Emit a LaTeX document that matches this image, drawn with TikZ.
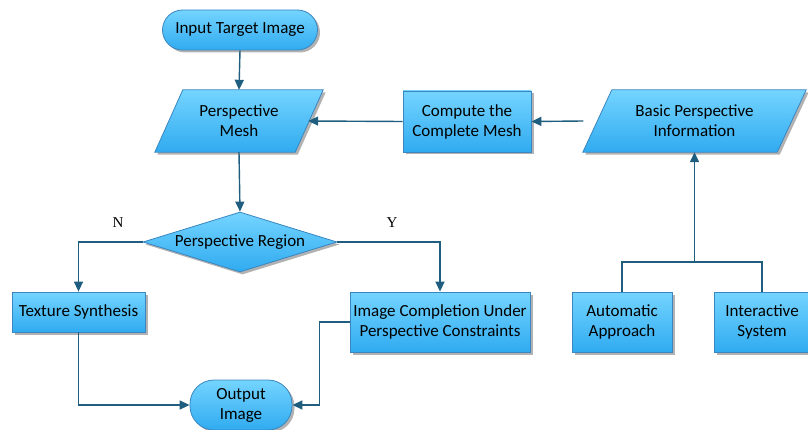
\documentclass[tikz,border=0pt]{standalone}
\usepackage{fontspec}
\setmainfont{Carlito}
\newfontfamily\labfont{Liberation Serif}
\usetikzlibrary{arrows.meta,shapes.geometric,shadows,calc}
\definecolor{lineC}{HTML}{1F5E7E}
\definecolor{edgeC}{HTML}{3A86C0}
\definecolor{topC}{HTML}{74D4FF}
\definecolor{botC}{HTML}{30ABF0}
\begin{document}
\begin{tikzpicture}[x=1pt,y=-1pt,
  shaded/.style={top color=topC, bottom color=botC, draw=edgeC, line width=0.8pt,
    drop shadow={shadow xshift=2.5pt,shadow yshift=-2.5pt,fill=black,opacity=0.3}},
  tfont/.style={font=\fontsize{17}{20}\selectfont},
  rbox/.style={shaded, rectangle, align=center, tfont, inner sep=0pt},
  term/.style={rbox, rounded corners=20pt},
  txt/.style={align=center, tfont, inner sep=0pt},
  conn/.style={draw=lineC, line width=1.4pt},
  arr/.style={conn, -{Triangle[length=10pt,width=9pt]}},
  yn/.style={font=\labfont\fontsize{15}{16}\selectfont, inner sep=0pt}
]
\useasboundingbox (0,0) rectangle (808,430);

% terminals
\node[term, minimum width=155, minimum height=40] (in) at (240,30) {Input Target Image};
\node[term, minimum width=102, minimum height=50, rounded corners=24pt] (out) at (241,405) {Output\\Image};

% parallelograms
\node[txt, minimum width=140, minimum height=62] (pm) at (239,121) {};
\path[shaded] ([xshift=-14pt]pm.south west) -- ([xshift=14pt]pm.north west) -- ([xshift=14pt]pm.north east) -- ([xshift=-14pt]pm.south east) -- cycle;
\node[txt] (pmt) at (pm) {Perspective\\Mesh};

\node[txt, minimum width=194, minimum height=62] (bpi) at (694.5,121) {};
\path[shaded] ([xshift=-14.5pt]bpi.south west) -- ([xshift=14.5pt]bpi.north west) -- ([xshift=14.5pt]bpi.north east) -- ([xshift=-14.5pt]bpi.south east) -- cycle;
\node[txt] (bpit) at (bpi) {Basic Perspective\\Information};

% rectangles
\node[rbox, minimum width=128, minimum height=61] (cm) at (467,121.5) {Compute the\\Complete Mesh};
\node[rbox, minimum width=133, minimum height=40] (ts) at (78.5,312) {Texture Synthesis};
\node[rbox, minimum width=180, minimum height=60] (ic) at (440,322) {Image Completion Under\\Perspective Constraints};
\node[rbox, minimum width=100, minimum height=60] (aa) at (622,322) {Automatic\\Approach};
\node[rbox, minimum width=96, minimum height=60] (is) at (762,322) {Interactive\\System};

% diamond
\node[shaded, diamond, minimum width=194, minimum height=60, inner sep=0pt] (pr) at (240,242) {};
\node[txt] (prt) at (pr) {Perspective Region};

% labels
\node[yn] (nl) at (118,223) {N};
\node[yn] (yl) at (392,223) {Y};

% connectors
\draw[arr] (in.south) -- (pm.north);
\draw[arr] (pm.south) -- (pr.north);
\draw[arr] (cm.west) -- ([xshift=-1pt]pm.east);
\draw[arr] ([xshift=-14pt]bpi.west) -- (cm.east);
\draw[arr] (pr.west) -| (ts.north);
\draw[arr] (pr.east) -| (ic.north);
\draw[arr] (ts.south) |- (out.west);
\draw[arr] (ic.west) -- ++(-30,0) |- (out.east);
\coordinate (j) at (bpi.south |- 0,262);
\draw[conn] (aa.north) |- (j) -| (is.north);
\draw[arr] (j) -- (bpi.south);
\end{tikzpicture}
\end{document}
